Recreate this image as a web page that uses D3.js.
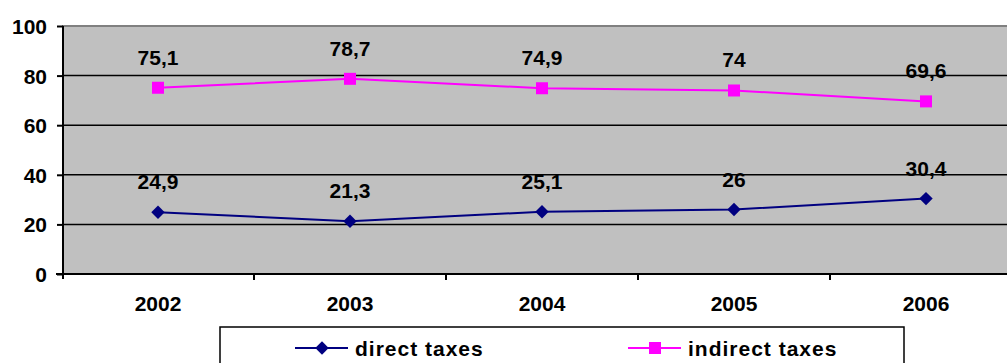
<!DOCTYPE html>
<html>
<head>
<meta charset="utf-8">
<script src="https://cdn.jsdelivr.net/npm/d3@7"></script>
<style>
  body { margin: 0; background: #fff; }
  text { font-family: "Liberation Sans", Arial, sans-serif; font-weight: bold; fill: #000; }
</style>
</head>
<body>
<svg id="chart" width="1007" height="363"></svg>
<script>
const years = ["2002", "2003", "2004", "2005", "2006"];
const directTaxes = [24.9, 21.3, 25.1, 26, 30.4];
const indirectTaxes = [75.1, 78.7, 74.9, 74, 69.6];
const yTicks = [0, 20, 40, 60, 80, 100];

const svg = d3.select("#chart");
const plotLeft = 62, plotRight = 1022, plotTop = 26, plotBottom = 274;

const x = d3.scaleBand().domain(years).range([plotLeft, plotRight]);
const y = d3.scaleLinear().domain([0, 100]).range([plotBottom, plotTop]);

// plot area
svg.append("rect")
    .attr("x", plotLeft).attr("y", plotTop)
    .attr("width", plotRight - plotLeft).attr("height", plotBottom - plotTop)
    .attr("fill", "#c0c0c0");

svg.append("line")
    .attr("x1", plotLeft).attr("x2", plotRight)
    .attr("y1", plotTop).attr("y2", plotTop)
    .attr("stroke", "#808080").attr("stroke-width", 2);

// gridlines
svg.selectAll(".grid")
    .data(yTicks.filter(d => d > 0 && d < 100))
    .enter().append("line")
    .attr("x1", plotLeft).attr("x2", plotRight)
    .attr("y1", d => y(d)).attr("y2", d => y(d))
    .attr("stroke", "#000").attr("stroke-width", 1.5);

// y axis
const yAxis = svg.append("g")
    .attr("transform", `translate(${plotLeft + 1},0)`)
    .call(d3.axisLeft(y).tickValues(yTicks).tickSize(6).tickPadding(10));
yAxis.select(".domain").attr("stroke", "#000").attr("stroke-width", 2)
    .attr("d", `M0,${plotTop}V${plotBottom + 5}`);
yAxis.selectAll(".tick line").attr("stroke", "#000").attr("stroke-width", 2);
yAxis.selectAll("text").style("font-size", "21px").attr("dy", "0.36em");

// x axis
const xAxis = svg.append("g")
    .attr("transform", `translate(0,${plotBottom})`)
    .call(d3.axisBottom(x).tickSize(0).tickPadding(22));
xAxis.select(".domain").attr("stroke", "#000").attr("stroke-width", 2)
    .attr("d", `M${plotLeft - 6},0H${plotRight}`);
xAxis.selectAll("text").style("font-size", "21px");
svg.selectAll(".xtick")
    .data(years.slice(1))
    .enter().append("line")
    .attr("x1", d => x(d)).attr("x2", d => x(d))
    .attr("y1", plotBottom).attr("y2", plotBottom + 6)
    .attr("stroke", "#000").attr("stroke-width", 2);

const cx = d => x(d) + x.bandwidth() / 2;

const series = [
  { name: "direct taxes", values: directTaxes, color: "#000080", rotate: 45, size: 90 },
  { name: "indirect taxes", values: indirectTaxes, color: "#ff00ff", rotate: 0, size: 144 }
];

const line = d3.line().x(d => cx(d[0])).y(d => y(d[1]));

series.forEach(s => {
  const pts = years.map((yr, i) => [yr, s.values[i]]);
  svg.append("path")
      .attr("d", line(pts))
      .attr("fill", "none").attr("stroke", s.color).attr("stroke-width", 2);
  svg.selectAll(null)
      .data(pts)
      .enter().append("path")
      .attr("d", d3.symbol().type(d3.symbolSquare).size(s.size))
      .attr("transform", d => `translate(${cx(d[0])},${y(d[1])}) rotate(${s.rotate})`)
      .attr("fill", s.color);
  svg.selectAll(null)
      .data(pts)
      .enter().append("text")
      .attr("x", d => cx(d[0]))
      .attr("y", d => y(d[1]) - 23)
      .attr("text-anchor", "middle")
      .style("font-size", "21px")
      .text(d => String(d[1]).replace(".", ","));
});

// legend
const lg = svg.append("g");
lg.append("rect")
    .attr("x", 220).attr("y", 327).attr("width", 684).attr("height", 50)
    .attr("fill", "#fff").attr("stroke", "#000").attr("stroke-width", 1.5);
const legendX = [295, 628];
series.forEach((s, i) => {
  const g = lg.append("g").attr("transform", `translate(${legendX[i]},348)`);
  g.append("line").attr("x1", 0).attr("x2", 53).attr("stroke", s.color).attr("stroke-width", 2);
  g.append("path")
      .attr("d", d3.symbol().type(d3.symbolSquare).size(s.size))
      .attr("transform", `translate(27,0) rotate(${s.rotate})`)
      .attr("fill", s.color);
  g.append("text")
      .attr("x", 60).attr("dy", "0.36em")
      .style("font-size", "21px")
      .style("letter-spacing", "1px")
      .text(s.name);
});
</script>
</body>
</html>
